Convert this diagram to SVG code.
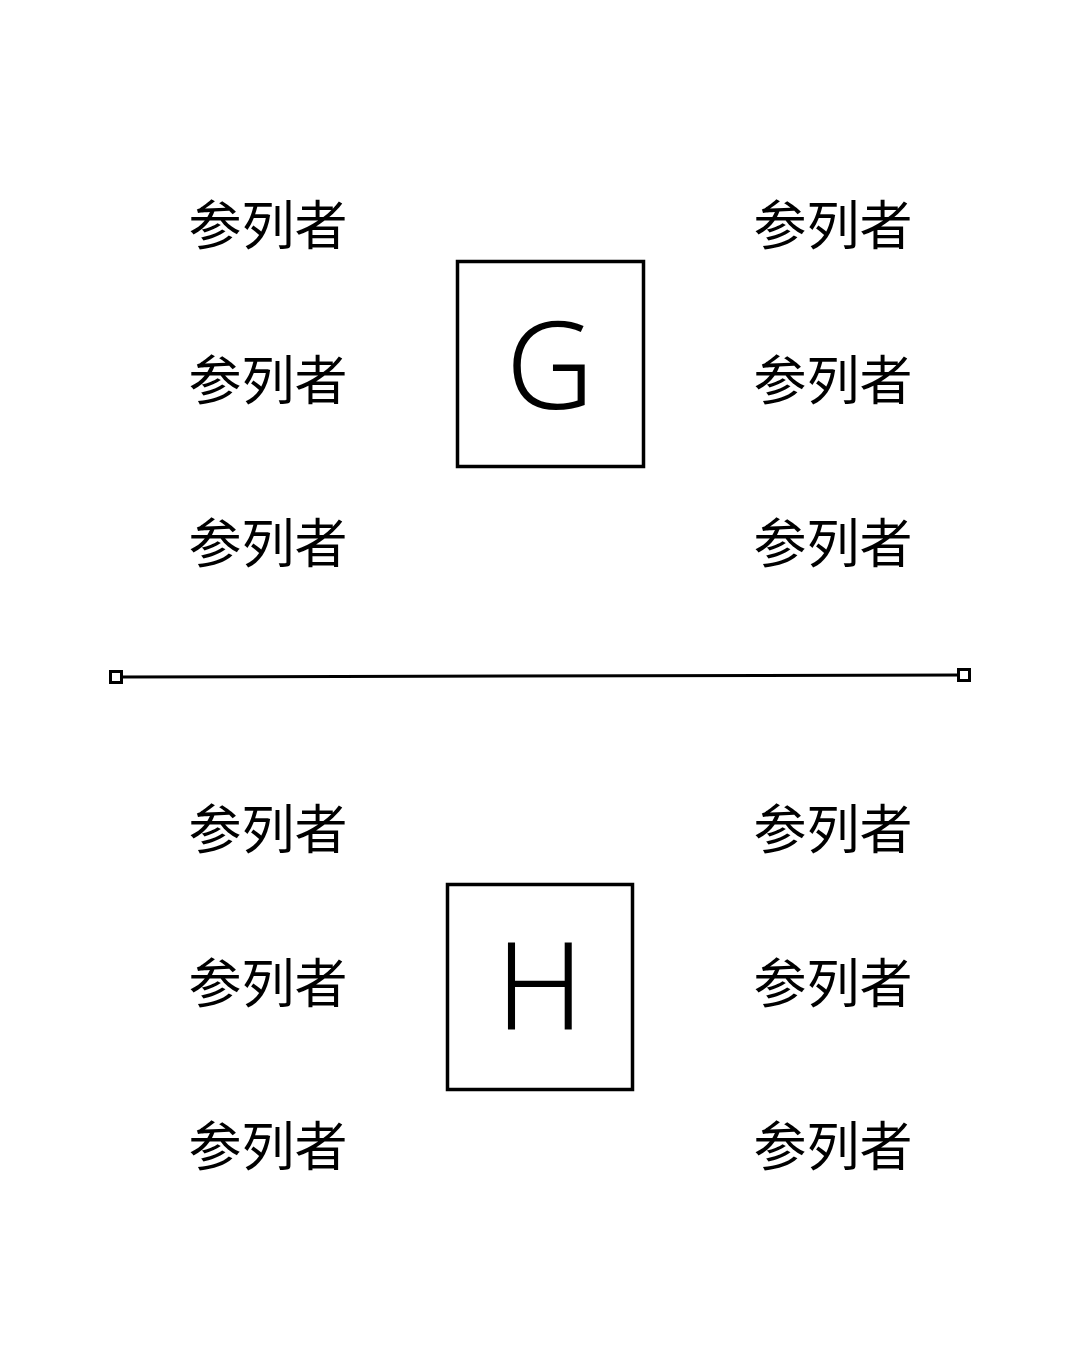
<svg xmlns="http://www.w3.org/2000/svg" width="1080" height="1350" viewBox="0 0 1080 1350">
<defs>
<style>
.lbl{font-family:"Noto Sans CJK SC","Noto Sans",sans-serif;font-size:53px;fill:#000;text-anchor:middle}
.big{font-family:"Noto Sans","Open Sans",sans-serif;font-size:122px;font-weight:300;fill:#000;text-anchor:middle}
.box{fill:#fff;stroke:#000;stroke-width:3.5}
.ln{stroke:#000;stroke-width:3;fill:none}
</style>
<marker id="sq" viewBox="0 0 14 14" refX="7" refY="7" markerWidth="14" markerHeight="14" markerUnits="userSpaceOnUse" orient="auto">
<rect x="1.5" y="1.5" width="11" height="11" fill="#fff" stroke="#000" stroke-width="3"/>
</marker>
</defs>
<rect width="1080" height="1350" fill="#fff"/>
<g id="connectors">
<line class="ln" x1="116" y1="677" x2="964" y2="675" marker-start="url(#sq)" marker-end="url(#sq)"/>
</g>
<g id="node-G">
<rect class="box" x="457.5" y="261.5" width="186" height="205"/>
<text class="big" x="550" y="409">G</text>
</g>
<g id="node-H">
<rect class="box" x="447.5" y="884.5" width="185" height="205"/>
<text class="big" x="540" y="1029">H</text>
</g>
<g id="labels-top">
<text class="lbl" x="268" y="245">参列者</text>
<text class="lbl" x="268" y="400">参列者</text>
<text class="lbl" x="268" y="563">参列者</text>
<text class="lbl" x="833" y="245">参列者</text>
<text class="lbl" x="833" y="400">参列者</text>
<text class="lbl" x="833" y="563">参列者</text>
</g>
<g id="labels-bottom">
<text class="lbl" x="268" y="849">参列者</text>
<text class="lbl" x="268" y="1003">参列者</text>
<text class="lbl" x="268" y="1166">参列者</text>
<text class="lbl" x="833" y="849">参列者</text>
<text class="lbl" x="833" y="1003">参列者</text>
<text class="lbl" x="833" y="1166">参列者</text>
</g>
</svg>
